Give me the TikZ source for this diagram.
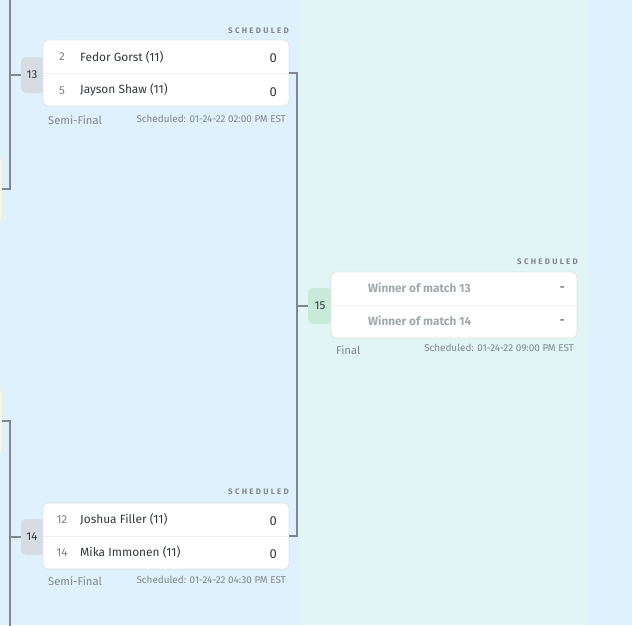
\documentclass[tikz,border=0pt]{standalone}
\usepackage{fontspec}
\setmainfont{Fira Sans}
\usetikzlibrary{calc}
\definecolor{bgblue}{HTML}{DFF1FC}
\definecolor{bgteal}{HTML}{E1F6F4}
\definecolor{linegray}{HTML}{7F8890}
\definecolor{badgegray}{HTML}{D5DCE2}
\definecolor{badgegreen}{HTML}{C8EAD8}
\definecolor{cardborder}{HTML}{DDE3E8}
\definecolor{divider}{HTML}{EDF0F2}
\definecolor{darktext}{HTML}{333840}
\definecolor{seedtext}{HTML}{7A7F85}
\definecolor{mutedtext}{HTML}{80868C}
\definecolor{tbdtext}{HTML}{A3A8AD}
\definecolor{yellowbox}{HTML}{FBF8DF}
\definecolor{yellowborder}{HTML}{E5E4CF}
\tikzset{
  card/.style={draw=cardborder, fill=white, rounded corners=6pt, minimum width=246pt, minimum height=66pt, inner sep=0pt, line width=0.6pt},
  badge/.style={rounded corners=5pt, minimum width=24pt, minimum height=36pt, inner sep=0pt},
  badgenum/.style={font=\fontsize{11.5}{12}\selectfont, text=darktext, inner sep=0pt},
  conn/.style={draw=linegray, line width=1.3pt},
  seed/.style={anchor=center, font=\fontsize{11.5}{12}\selectfont, text=seedtext, inner sep=0pt},
  player/.style={anchor=west, font=\fontsize{11.9}{13}\selectfont, text=darktext, inner sep=0pt},
  tbd/.style={anchor=west, font=\fontsize{11.8}{13}\selectfont\bfseries, text=tbdtext, inner sep=0pt},
  score/.style={anchor=east, font=\fontsize{13}{14}\selectfont, text=darktext, inner sep=0pt},
  status/.style={anchor=east, font=\fontsize{8}{8}\selectfont\bfseries\addfontfeatures{LetterSpace=28}, text=mutedtext, inner sep=0pt},
  roundlbl/.style={anchor=west, font=\fontsize{11.2}{12}\selectfont, text=mutedtext, inner sep=0pt},
  timelbl/.style={anchor=east, font=\fontsize{9.9}{10}\selectfont, text=mutedtext, inner sep=0pt},
  edgebox/.style={draw=yellowborder, fill=yellowbox, rounded corners=4pt, minimum width=24pt, minimum height=66pt, inner sep=0pt}
}
\begin{document}
\begin{tikzpicture}[x=1pt,y=-1pt]
\useasboundingbox (0,0) rectangle (632,625);
% backgrounds
\fill[bgblue] (0,0) rectangle (300,625);
\fill[bgteal] (300,0) rectangle (588,625);
\fill[bgblue] (588,0) rectangle (632,625);

% partial cards at the left edge
\node[edgebox] (e1) at (-10,189) {};
\node[edgebox] (e2) at (-10,421) {};

% left bracket lines
\coordinate (t1) at (10,-2);
\coordinate (t2) at (10,627);
\draw[conn] (t1) |- (e1.east);
\draw[conn] (t2) |- (e2.east);

% badges
\node[badge, fill=badgegray] (b13) at (33,75) {};
\node[badge, fill=badgegray] (b14) at (33,537) {};
\node[badge, fill=badgegreen] (b15) at (320,306) {};

\draw[conn] (b13.west) -- (b13.west -| t1);
\draw[conn] (b14.west) -- (b14.west -| t2);

% cards
\node[card] (c13) at (166,73) {};
\node[card] (c14) at (166,536) {};
\node[card] (c15) at (454,305) {};

\draw[divider, line width=0.8pt] (c13.west) -- (c13.east);
\draw[divider, line width=0.8pt] (c14.west) -- (c14.east);
\draw[divider, line width=0.8pt] (c15.west) -- (c15.east);

% badge numbers
\node[badgenum] (n13) at (32,75) {13};
\node[badgenum] (n14) at (32,537) {14};
\node[badgenum] (n15) at (320,306) {15};

% bracket to final
\coordinate (j) at (297,306);
\draw[conn] (c13.east) -| (j) |- (c14.east);
\draw[conn] (j) -- (b15.west);

% card 13
\node[status] (s13) at (289,31) {SCHEDULED};
\node[seed] (p13a) at (62,57) {2};
\node[player] (q13a) at (80,57) {Fedor Gorst (11)};
\node[score] (r13a) at (277,58) {0};
\node[seed] (p13b) at (62,91) {5};
\node[player] (q13b) at (80,90) {Jayson Shaw (11)};
\node[score] (r13b) at (277,92) {0};
\node[roundlbl] (l13) at (48,120) {Semi-Final};
\node[timelbl] (d13) at (286,119) {Scheduled: 01-24-22 02:00 PM EST};

% card 14
\node[status] (s14) at (289,492) {SCHEDULED};
\node[seed] (p14a) at (62,520) {12};
\node[player] (q14a) at (80,519) {Joshua Filler (11)};
\node[score] (r14a) at (277,521) {0};
\node[seed] (p14b) at (62,553) {14};
\node[player] (q14b) at (80,552) {Mika Immonen (11)};
\node[score] (r14b) at (277,554) {0};
\node[roundlbl] (l14) at (48,581) {Semi-Final};
\node[timelbl] (d14) at (286,580) {Scheduled: 01-24-22 04:30 PM EST};

% card 15
\node[status] (s15) at (578,262) {SCHEDULED};
\node[tbd] (q15a) at (368,288) {Winner of match 13};
\node[score, text=darktext] (r15a) at (565,289) {-};
\node[tbd] (q15b) at (368,321) {Winner of match 14};
\node[score, text=darktext] (r15b) at (565,322) {-};
\node[roundlbl] (l15) at (336,350) {Final};
\node[timelbl] (d15) at (574,348) {Scheduled: 01-24-22 09:00 PM EST};
\end{tikzpicture}
\end{document}
